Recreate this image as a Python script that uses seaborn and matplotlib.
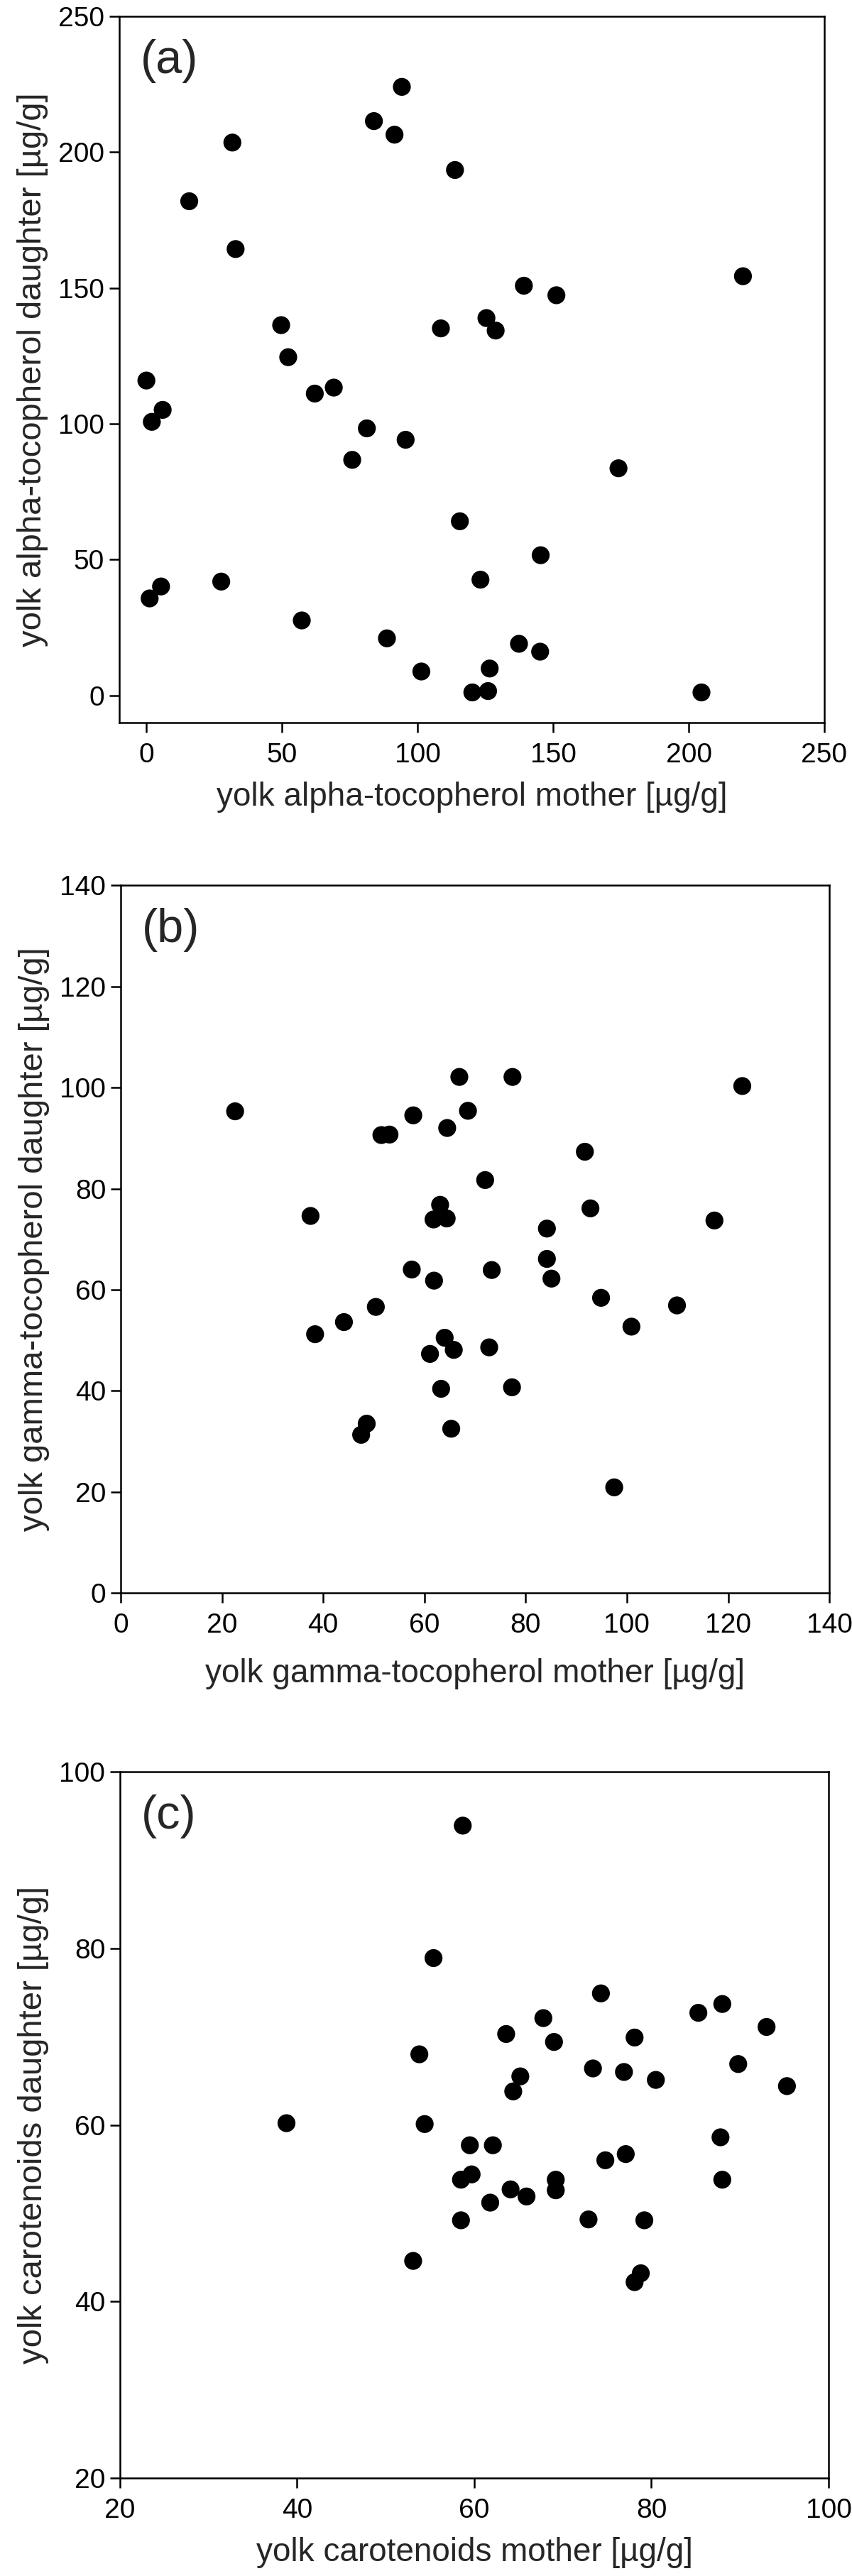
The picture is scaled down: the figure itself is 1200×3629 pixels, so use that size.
import pandas as pd
import seaborn as sns
import matplotlib
matplotlib.use("Agg")
import matplotlib.pyplot as plt

# panel (a): alpha-tocopherol, mother vs daughter [ug/g]
alpha_mother = [94.2, 83.9, 91.5, 31.7, 113.8, 15.8, 32.9, 220.0, 139.2, 151.2,
                49.7, 125.4, 108.6, 128.8, 52.3, 0.0, 69.1, 62.1, 6.0, 2.0,
                81.3, 95.6, 75.9, 174.1, 115.6, 145.4, 123.2, 27.6, 5.4, 1.2,
                57.3, 88.7, 137.4, 145.2, 126.6, 101.4, 120.2, 126.0, 204.7]
alpha_daughter = [224.0, 211.4, 206.4, 203.5, 193.4, 181.9, 164.3, 154.3, 150.8, 147.3,
                  136.3, 138.9, 135.1, 134.3, 124.5, 115.9, 113.3, 111.1, 105.1, 100.7,
                  98.3, 94.1, 86.7, 83.6, 64.1, 51.6, 42.6, 41.9, 40.1, 35.7,
                  27.6, 21.0, 19.0, 16.1, 9.9, 8.8, 1.1, 1.6, 1.1]

# panel (b): gamma-tocopherol
gamma_mother = [22.6, 66.9, 77.4, 122.8, 57.8, 68.6, 51.5, 53.1, 64.5, 91.7,
                72.0, 37.5, 63.1, 61.8, 64.4, 92.8, 117.3, 84.2, 84.2, 57.5,
                73.3, 61.9, 85.1, 94.9, 50.4, 109.9, 44.1, 38.4, 100.9, 64.0,
                61.1, 65.8, 72.8, 63.3, 77.3, 48.6, 47.5, 65.3, 97.5]
gamma_daughter = [95.3, 102.1, 102.1, 100.3, 94.5, 95.4, 90.6, 90.7, 92.0, 87.3,
                  81.7, 74.6, 76.8, 73.9, 74.1, 76.1, 73.7, 72.1, 66.1, 64.0,
                  63.9, 61.8, 62.2, 58.4, 56.6, 56.9, 53.6, 51.2, 52.7, 50.5,
                  47.3, 48.1, 48.6, 40.4, 40.7, 33.5, 31.3, 32.5, 20.9]

# panel (c): carotenoids
carot_mother = [58.7, 55.4, 74.3, 88.0, 85.3, 67.8, 93.0, 63.6, 78.1, 69.0,
                53.8, 89.8, 73.4, 76.9, 65.2, 80.5, 64.4, 95.3, 38.8, 54.4,
                87.8, 59.5, 62.1, 77.1, 74.8, 59.7, 58.5, 69.2, 88.0, 69.2,
                64.1, 65.9, 61.8, 72.9, 58.5, 79.2, 53.1, 78.8, 78.1]
carot_daughter = [93.9, 78.9, 74.9, 73.7, 72.7, 72.1, 71.1, 70.3, 69.9, 69.4,
                  68.0, 66.9, 66.4, 66.0, 65.5, 65.1, 63.8, 64.4, 60.2, 60.1,
                  58.6, 57.7, 57.7, 56.7, 56.0, 54.4, 53.8, 53.8, 53.8, 52.6,
                  52.7, 51.9, 51.2, 49.3, 49.2, 49.2, 44.6, 43.2, 42.2]

panels = [
    ("(a)", alpha_mother, alpha_daughter,
     "yolk alpha-tocopherol mother [µg/g]", "yolk alpha-tocopherol daughter [µg/g]",
     (-10, 250), (-10, 250), [0, 50, 100, 150, 200, 250], 14),
    ("(b)", gamma_mother, gamma_daughter,
     "yolk gamma-tocopherol mother [µg/g]", "yolk gamma-tocopherol daughter [µg/g]",
     (0, 140), (0, 140), [0, 20, 40, 60, 80, 100, 120, 140], 20),
    ("(c)", carot_mother, carot_daughter,
     "yolk carotenoids mother [µg/g]", "yolk carotenoids daughter [µg/g]",
     (20, 100), (20, 100), [20, 40, 60, 80, 100], 14),
]

# axes boxes in figure fractions (left, bottom, width, height)
boxes = [(0.140, 0.7195, 0.8275, 0.2742),
         (0.1417, 0.3816, 0.8317, 0.2747),
         (0.1408, 0.0380, 0.8317, 0.2742)]

sns.set_style("ticks")
plt.rcParams["font.family"] = ["Liberation Sans", "DejaVu Sans"]

fig = plt.figure(figsize=(12, 36.29), dpi=100)

for (tag, xs, ys, xlab, ylab, xlim, ylim, ticks, xpad), box in zip(panels, boxes):
    ax = fig.add_axes(box)
    df = pd.DataFrame({"mother": xs, "daughter": ys})
    sns.scatterplot(data=df, x="mother", y="daughter", ax=ax,
                    color="black", edgecolor="none", s=330, legend=False)
    ax.set_xlim(*xlim)
    ax.set_ylim(*ylim)
    ax.set_xticks(ticks)
    ax.set_yticks(ticks)
    ax.set_xlabel(xlab, fontsize=33, labelpad=xpad)
    ax.set_ylabel(ylab, fontsize=34, labelpad=10)
    ax.tick_params(direction="out", length=10, width=1.8, labelsize=28,
                   colors="black")
    ax.tick_params(axis="x", pad=10)
    ax.tick_params(axis="y", pad=5)
    for sp in ax.spines.values():
        sp.set_linewidth(1.8)
        sp.set_color("black")
    ax.text(0.03, 0.968, tag, transform=ax.transAxes, ha="left", va="top",
            fontsize=48)

fig.savefig("out.png", dpi=100)
